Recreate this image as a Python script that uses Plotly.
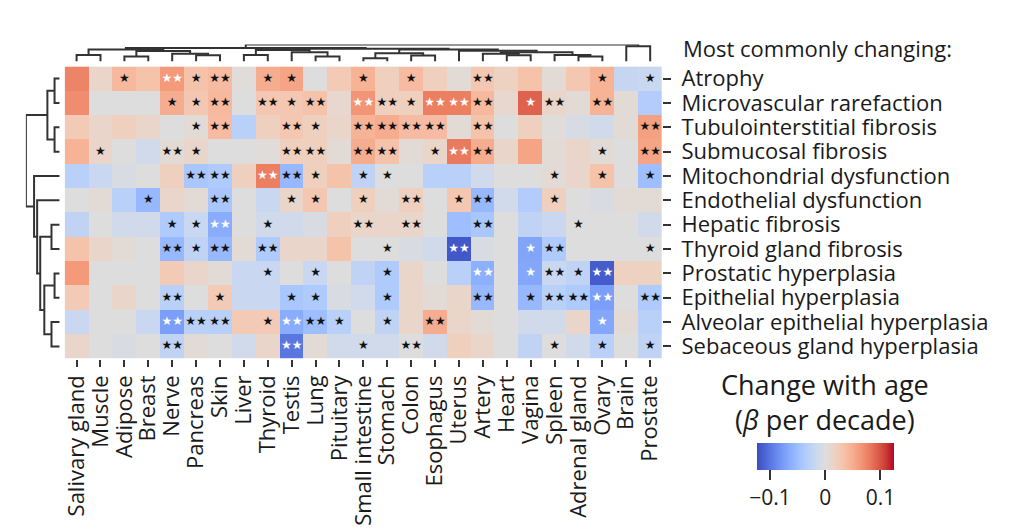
import plotly.graph_objects as go

tissues = ["Salivary gland", "Muscle", "Adipose", "Breast", "Nerve", "Pancreas", "Skin",
           "Liver", "Thyroid", "Testis", "Lung", "Pituitary", "Small intestine", "Stomach",
           "Colon", "Esophagus", "Uterus", "Artery", "Heart", "Vagina", "Spleen",
           "Adrenal gland", "Ovary", "Brain", "Prostate"]

phenotypes = ["Atrophy", "Microvascular rarefaction", "Tubulointerstitial fibrosis",
              "Submucosal fibrosis", "Mitochondrial dysfunction", "Endothelial dysfunction",
              "Hepatic fibrosis", "Thyroid gland fibrosis", "Prostatic hyperplasia",
              "Epithelial hyperplasia", "Alveolar epithelial hyperplasia",
              "Sebaceous gland hyperplasia"]

# beta per decade (rows = phenotypes, columns = tissues)
beta = [
    [0.075, 0.012, 0.040, 0.033, 0.062, 0.033, 0.038, 0.002, 0.050, 0.055, 0.000, 0.025, 0.045, 0.020, 0.038, 0.020, 0.005, 0.028, 0.018, 0.033, 0.005, 0.028, 0.045, -0.020, -0.018],
    [0.070, 0.000, 0.000, 0.000, 0.050, 0.028, 0.040, 0.000, 0.028, 0.028, 0.033, 0.010, 0.065, 0.020, 0.020, 0.078, 0.078, 0.040, 0.010, 0.092, 0.012, 0.005, 0.045, 0.005, -0.035],
    [0.025, 0.012, 0.020, 0.012, 0.000, 0.005, 0.038, -0.030, 0.020, 0.028, 0.020, 0.012, 0.045, 0.050, 0.038, 0.038, 0.005, 0.033, 0.000, 0.020, 0.002, -0.006, -0.012, 0.005, 0.058],
    [0.045, 0.012, 0.000, -0.012, 0.005, 0.012, 0.000, 0.000, 0.002, 0.020, 0.020, 0.005, 0.050, 0.033, 0.005, 0.012, 0.080, 0.050, 0.012, 0.055, 0.005, 0.012, 0.005, 0.000, 0.055],
    [-0.030, -0.018, -0.005, 0.000, 0.020, -0.042, -0.038, 0.020, 0.078, -0.055, 0.020, 0.033, -0.025, 0.000, 0.000, -0.030, -0.030, -0.012, 0.000, 0.000, 0.005, 0.012, 0.033, 0.000, -0.050],
    [0.000, 0.005, -0.030, -0.055, 0.012, 0.005, -0.042, 0.000, -0.018, 0.012, 0.028, 0.000, 0.020, 0.005, 0.020, 0.000, 0.028, -0.055, -0.012, -0.035, 0.020, 0.000, -0.005, 0.005, 0.005],
    [-0.025, 0.000, -0.012, -0.012, -0.038, -0.018, -0.065, 0.000, -0.012, -0.012, -0.005, 0.020, 0.012, 0.012, 0.012, 0.000, -0.050, -0.042, 0.000, -0.025, -0.018, 0.000, 0.000, 0.000, -0.012],
    [0.033, 0.012, 0.005, 0.000, -0.055, -0.025, -0.055, 0.005, -0.038, 0.012, 0.012, 0.033, 0.000, 0.000, -0.005, -0.012, -0.118, -0.005, 0.000, -0.070, -0.038, 0.000, 0.000, 0.000, 0.000],
    [0.062, 0.000, 0.000, 0.000, 0.025, 0.012, 0.005, -0.018, -0.018, 0.000, -0.018, 0.000, -0.025, -0.038, 0.012, 0.000, -0.030, -0.062, 0.000, -0.068, -0.018, -0.025, -0.115, 0.018, 0.018],
    [0.025, 0.000, 0.012, 0.000, -0.030, 0.000, 0.025, -0.018, -0.018, -0.042, -0.038, -0.005, -0.012, -0.038, 0.012, 0.005, 0.012, -0.055, 0.000, -0.055, -0.030, -0.038, -0.075, 0.000, -0.038],
    [-0.018, 0.000, 0.000, -0.018, -0.075, -0.030, -0.030, 0.025, 0.025, -0.065, -0.050, -0.030, 0.000, -0.025, 0.012, 0.050, 0.012, 0.005, 0.000, -0.012, -0.012, 0.012, -0.068, 0.005, -0.030],
    [0.012, 0.000, -0.005, 0.000, -0.025, 0.005, 0.000, -0.012, 0.012, -0.100, 0.005, -0.012, -0.012, -0.012, 0.000, -0.012, 0.020, 0.012, 0.000, -0.025, 0.000, -0.012, -0.030, 0.000, -0.025],
]

# significance stars (1 = *, 2 = **)
stars = [
    [0, 0, 1, 0, 2, 1, 2, 0, 1, 1, 0, 0, 1, 0, 1, 0, 0, 2, 0, 0, 0, 0, 1, 0, 1],
    [0, 0, 0, 0, 1, 1, 2, 0, 2, 1, 2, 0, 2, 2, 1, 2, 2, 2, 0, 1, 2, 0, 2, 0, 0],
    [0, 0, 0, 0, 0, 1, 2, 0, 0, 2, 1, 0, 2, 2, 2, 2, 0, 2, 0, 0, 0, 0, 0, 0, 2],
    [0, 1, 0, 0, 2, 1, 0, 0, 0, 2, 2, 0, 2, 2, 0, 1, 2, 2, 0, 0, 0, 0, 1, 0, 2],
    [0, 0, 0, 0, 0, 2, 2, 0, 2, 2, 1, 0, 1, 1, 0, 0, 0, 0, 0, 0, 1, 0, 1, 0, 1],
    [0, 0, 0, 1, 0, 0, 2, 0, 0, 1, 1, 0, 1, 0, 2, 0, 1, 2, 0, 0, 1, 0, 0, 0, 0],
    [0, 0, 0, 0, 1, 1, 2, 0, 1, 0, 0, 0, 2, 0, 2, 0, 0, 2, 0, 0, 0, 1, 0, 0, 0],
    [0, 0, 0, 0, 2, 1, 2, 0, 2, 0, 0, 0, 0, 1, 0, 0, 2, 0, 0, 1, 2, 0, 0, 0, 1],
    [0, 0, 0, 0, 0, 0, 0, 0, 1, 0, 1, 0, 0, 1, 0, 0, 0, 2, 0, 1, 2, 1, 2, 0, 0],
    [0, 0, 0, 0, 2, 0, 1, 0, 0, 1, 1, 0, 0, 1, 0, 0, 0, 2, 0, 1, 2, 2, 2, 0, 2],
    [0, 0, 0, 0, 2, 2, 2, 0, 1, 2, 2, 1, 0, 1, 0, 2, 0, 0, 0, 0, 0, 0, 1, 0, 0],
    [0, 0, 0, 0, 2, 0, 0, 0, 0, 2, 0, 0, 1, 0, 2, 0, 0, 0, 0, 0, 1, 0, 1, 0, 1],
]

# hierarchical clustering trees: (merge height, left, right); leaves are indices
tissue_tree = (16.3,
               (13.0,
                (11.5, (6.3, 0, 1), (10.0, (4.7, 2, 3), (7.5, 4, (6.0, 5, 6)))),
                (12.2,
                 (11.0, (6.3, 7, 8), (9.0, 9, (4.7, 10, 11))),
                 (11.5,
                  (8.0, (3.0, 12, 13), (5.7, 14, 15)),
                  (10.3, 16, (9.0, (7.5, 17, (6.0, 18, 19)), (6.3, 20, (4.7, 21, 22))))))),
               (14.7, 23, 24))

phenotype_tree = (33.0,
                  (12.0, (5.0, 0, 1), (5.0, 2, 3)),
                  (25.0, 4, (22.0, 5, (19.0, (8.0, 6, 7), (15.0, (5.0, 8, 9), (8.0, 10, 11))))))

cbar_ticks = [-0.1, 0, 0.1]
cbar_ticktext = ["\u22120.1", "0", "0.1"]
zlim = 0.124
white_star_threshold = 0.06

coolwarm = [
    [0.0, "rgb(59,76,192)"], [0.0625, "rgb(77,104,215)"], [0.125, "rgb(98,130,234)"],
    [0.1875, "rgb(119,154,247)"], [0.25, "rgb(141,176,254)"], [0.3125, "rgb(163,194,255)"],
    [0.375, "rgb(184,208,249)"], [0.4375, "rgb(204,217,238)"], [0.5, "rgb(221,221,221)"],
    [0.5625, "rgb(236,211,197)"], [0.625, "rgb(245,196,173)"], [0.6875, "rgb(247,177,148)"],
    [0.75, "rgb(244,154,123)"], [0.8125, "rgb(236,127,99)"], [0.875, "rgb(222,96,77)"],
    [0.9375, "rgb(203,62,56)"], [1.0, "rgb(180,4,38)"],
]

W, H = 1024, 529
FONT = "Open Sans"
TXT = "#1a1a1a"


def px_x(p):
    return p / W


def px_y(p):
    return 1 - p / H


def dendro(node):
    if isinstance(node, int):
        return float(node), 0.0, [], []
    h, a, b = node
    pa, ha, xa, ya = dendro(a)
    pb, hb, xb, yb = dendro(b)
    xs = xa + xb + [pa, pa, pb, pb, None]
    ys = ya + yb + [ha, h, h, hb, None]
    return (pa + pb) / 2, h, xs, ys


fig = go.Figure()

fig.add_trace(go.Heatmap(
    z=beta, x=list(range(len(tissues))), y=list(range(len(phenotypes))),
    colorscale=coolwarm, zmin=-zlim, zmax=zlim, hoverinfo="skip",
    colorbar=dict(orientation="h", x=px_x(825), xanchor="center", y=px_y(443), yanchor="top",
                  len=138 / W, lenmode="fraction", thickness=27, thicknessmode="pixels",
                  outlinewidth=0, ticks="outside", ticklen=10, tickwidth=1.5, tickcolor="#333",
                  tickvals=cbar_ticks, ticktext=cbar_ticktext, xpad=0, ypad=0,
                  tickfont=dict(family=FONT, size=21, color=TXT)),
))

for colour, want_white in (("#111111", False), ("white", True)):
    sx, sy, st = [], [], []
    for i, row in enumerate(stars):
        for j, s in enumerate(row):
            if s and ((abs(beta[i][j]) >= white_star_threshold) == want_white):
                sx.append(j)
                sy.append(i)
                st.append("\u2605" * s)
    fig.add_trace(go.Scatter(x=sx, y=sy, mode="text", text=st, hoverinfo="skip",
                             textfont=dict(family="DejaVu Sans", size=12, color=colour),
                             showlegend=False))

_, _, tx, ty = dendro(tissue_tree)
fig.add_trace(go.Scatter(x=tx, y=ty, mode="lines", line=dict(color="#333333", width=2),
                         xaxis="x2", yaxis="y2", hoverinfo="skip", showlegend=False))
_, _, rx, ry = dendro(phenotype_tree)
fig.add_trace(go.Scatter(x=ry, y=rx, mode="lines", line=dict(color="#333333", width=2),
                         xaxis="x3", yaxis="y3", hoverinfo="skip", showlegend=False))

hm_x = [px_x(60), px_x(661)]
hm_y = [px_y(358), px_y(63)]
xr = [-0.5, len(tissues) - 0.5]
yr = [len(phenotypes) - 0.5, -0.5]

fig.update_layout(
    width=W, height=H, margin=dict(l=0, r=0, t=0, b=0),
    paper_bgcolor="white", plot_bgcolor="white", showlegend=False,
    font=dict(family=FONT, color=TXT),
    xaxis=dict(domain=hm_x, range=xr, tickvals=list(range(len(tissues))), ticktext=tissues,
               tickangle=-90, ticks="outside", ticklen=7, tickwidth=1.5, tickcolor="#333",
               showgrid=False, zeroline=False, showline=False,
               tickfont=dict(family=FONT, size=22, color=TXT), anchor="y"),
    yaxis=dict(domain=hm_y, range=yr, tickvals=list(range(len(phenotypes))), ticktext=phenotypes,
               side="right", ticks="outside", ticklen=8, tickwidth=1.5, tickcolor="#333",
               ticklabelstandoff=6,
               showgrid=False, zeroline=False, showline=False,
               tickfont=dict(family=FONT, size=22, color=TXT), anchor="x"),
    xaxis2=dict(domain=hm_x, range=xr, visible=False, anchor="y2"),
    yaxis2=dict(domain=[px_y(58), px_y(41)], range=[0, 16.3], visible=False, anchor="x2"),
    xaxis3=dict(domain=[px_x(21), px_x(55)], range=[33.0, 0], visible=False, anchor="y3"),
    yaxis3=dict(domain=hm_y, range=yr, visible=False, anchor="x3"),
    annotations=[
        dict(text="Most commonly changing:", x=px_x(680), y=px_y(44), xref="paper", yref="paper",
             xanchor="left", yanchor="middle", showarrow=False,
             font=dict(family=FONT, size=22, color=TXT)),
        dict(text="Change with age<br>(<i>\u03b2</i> per decade)", x=px_x(825), y=px_y(402),
             xref="paper", yref="paper", xanchor="center", yanchor="middle", showarrow=False,
             font=dict(family=FONT, size=27, color=TXT)),
    ],
)

fig.write_html("out.html", config={"displayModeBar": False},
               post_script="document.body.style.margin='0';document.body.style.overflow='hidden';")
